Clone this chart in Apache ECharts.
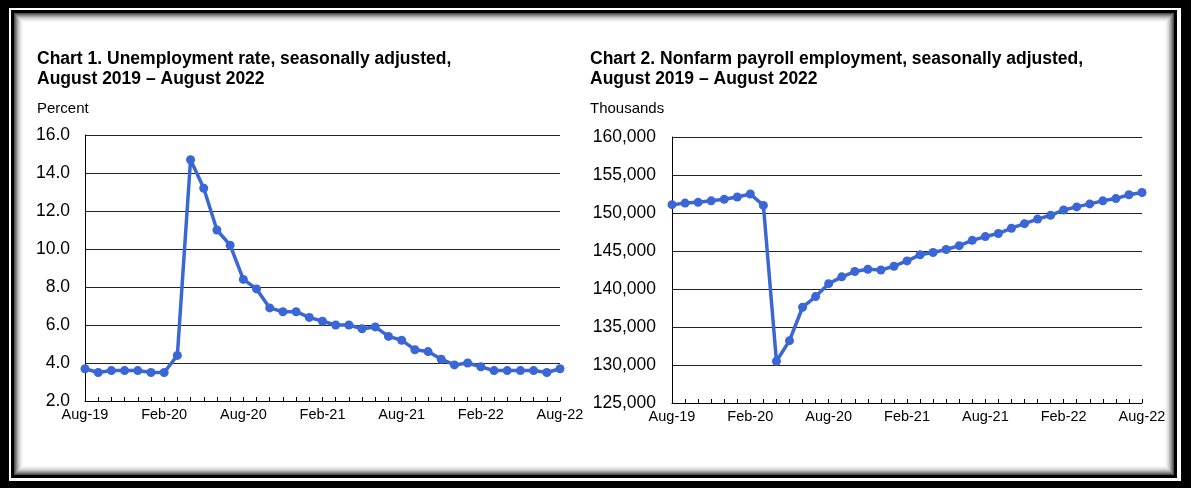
<!DOCTYPE html>
<html><head><meta charset="utf-8">
<script src="https://cdn.jsdelivr.net/npm/echarts@6/dist/echarts.min.js"></script>
<style>html,body{margin:0;padding:0;background:#fff}#c{width:1191px;height:488px}</style>
</head><body><div id="c"></div>
<script>
const months = ['Aug-19','Sep-19','Oct-19','Nov-19','Dec-19','Jan-20','Feb-20','Mar-20','Apr-20','May-20','Jun-20','Jul-20',
  'Aug-20','Sep-20','Oct-20','Nov-20','Dec-20','Jan-21','Feb-21','Mar-21','Apr-21','May-21','Jun-21','Jul-21',
  'Aug-21','Sep-21','Oct-21','Nov-21','Dec-21','Jan-22','Feb-22','Mar-22','Apr-22','May-22','Jun-22','Jul-22','Aug-22'];
const unemploymentRate = [3.7,3.5,3.6,3.6,3.6,3.5,3.5,4.4,14.7,13.2,11.0,10.2,
  8.4,7.9,6.9,6.7,6.7,6.4,6.2,6.0,6.0,5.8,5.9,5.4,
  5.2,4.7,4.6,4.2,3.9,4.0,3.8,3.6,3.6,3.6,3.6,3.5,3.7];
const payrollThousands = [151100,151300,151400,151600,151800,152100,152500,151000,130500,133200,137600,139000,
  140700,141600,142300,142600,142500,143000,143700,144500,144800,145200,145700,146400,
  146900,147300,148000,148600,149200,149700,150400,150800,151200,151600,151900,152400,152700];
const title1 = 'Chart 1. Unemployment rate, seasonally adjusted,\nAugust 2019 – August 2022';
const title2 = 'Chart 2. Nonfarm payroll employment, seasonally adjusted,\nAugust 2019 – August 2022';
const unit1 = 'Percent';
const unit2 = 'Thousands';

const FONT = 'Arial, "Liberation Sans", sans-serif';
const BLUE = '#3a66d6';

function comma(v){ return String(v).replace(/\B(?=(\d{3})+(?!\d))/g, ','); }

const frame = [
  {type:'rect', shape:{x:0,y:0,width:1191,height:488}, style:{fill:'#000'}, silent:true},
  {type:'rect', shape:{x:9,y:8,width:1172,height:473}, style:{fill:'#fff'}, silent:true},
  {type:'rect', shape:{x:11,y:10,width:1166,height:468}, style:{fill:'#000'}, silent:true}
];
const shades = ['#505050','#6e6e6e','#8c8c8c','#a8a8a8','#c0c0c0','#d4d4d4','#e4e4e4','#f0f0f0','#f8f8f8','#fff'];
shades.forEach((c,i)=>{
  frame.push({type:'rect', shape:{x:14+i, y:13+i, width:1160-2*i, height:462-2*i}, style:{fill:c}, silent:true});
});

function xAxisCfg(gi){
  return {
    type:'category', gridIndex:gi, data:months, boundaryGap:false,
    axisLine:{show:true, lineStyle:{color:'#000', width:1}},
    axisTick:{show:true, inside:true, length:4, interval:0, lineStyle:{color:'#000', width:1}},
    axisLabel:{interval:5, fontSize:14.5, color:'#000', fontFamily:FONT, margin:6, showMinLabel:true, showMaxLabel:true},
    splitLine:{show:false}
  };
}

const option = {
  animation:false,
  backgroundColor:'#fff',
  graphic: frame,
  title:[
    {text:title1, left:37, top:49, padding:0, textStyle:{fontSize:17.5, fontWeight:'bold', lineHeight:20, color:'#000', fontFamily:FONT}},
    {text:unit1, left:37, top:100, padding:0, textStyle:{fontSize:15, fontWeight:'normal', lineHeight:18, color:'#000', fontFamily:FONT}},
    {text:title2, left:590, top:49, padding:0, textStyle:{fontSize:17.5, fontWeight:'bold', lineHeight:20, color:'#000', fontFamily:FONT}},
    {text:unit2, left:590, top:100, padding:0, textStyle:{fontSize:15, fontWeight:'normal', lineHeight:18, color:'#000', fontFamily:FONT}}
  ],
  grid:[
    {left:85, top:135, width:475, height:266, show:true, borderColor:'#000', borderWidth:1, backgroundColor:'transparent'},
    {left:672, top:137, width:470, height:266, show:true, borderColor:'#000', borderWidth:1, backgroundColor:'transparent'}
  ],
  xAxis:[xAxisCfg(0), xAxisCfg(1)],
  yAxis:[
    {type:'value', gridIndex:0, min:2, max:16, interval:2,
     axisLine:{show:true, lineStyle:{color:'#000'}}, axisTick:{show:false},
     axisLabel:{fontSize:17.5, color:'#000', fontFamily:FONT, margin:15, formatter:v=>v.toFixed(1)},
     splitLine:{show:true, lineStyle:{color:'#222', width:1}}},
    {type:'value', gridIndex:1, min:125000, max:160000, interval:5000,
     axisLine:{show:true, lineStyle:{color:'#000'}}, axisTick:{show:false},
     axisLabel:{fontSize:17.5, color:'#000', fontFamily:FONT, margin:16, formatter:v=>comma(v)},
     splitLine:{show:true, lineStyle:{color:'#222', width:1}}}
  ],
  series:[
    {type:'line', xAxisIndex:0, yAxisIndex:0, data:unemploymentRate, symbol:'circle', symbolSize:9, showAllSymbol:true,
     lineStyle:{color:BLUE, width:3.5}, itemStyle:{color:BLUE}, z:5},
    {type:'line', xAxisIndex:1, yAxisIndex:1, data:payrollThousands, symbol:'circle', symbolSize:9, showAllSymbol:true,
     lineStyle:{color:BLUE, width:3.5}, itemStyle:{color:BLUE}, z:5}
  ]
};
const chart = echarts.init(document.getElementById('c'), null, {renderer:'canvas'});
chart.setOption(option);
</script></body></html>
